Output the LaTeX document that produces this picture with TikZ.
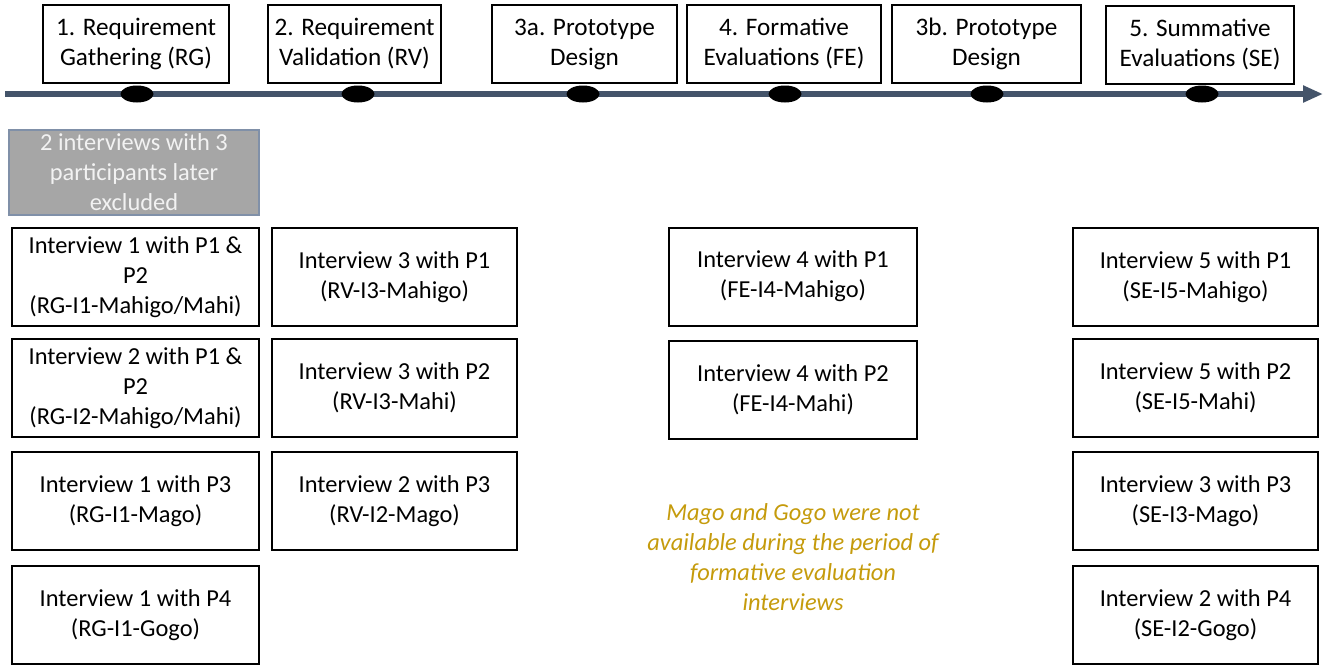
\documentclass[tikz,border=0pt]{standalone}
\usepackage{fontspec}
\setmainfont{Carlito}
\usetikzlibrary{arrows.meta,shapes.geometric}
\definecolor{timeline}{HTML}{44546A}
\definecolor{notegold}{HTML}{C59B0C}
\definecolor{excl}{HTML}{A6A6A6}
\definecolor{exclborder}{HTML}{8090A8}
\tikzset{
  phase/.style={draw=black, line width=0.8pt, fill=white, align=center, inner sep=0pt,
    minimum height=39pt, font=\fontsize{12.6}{15}\selectfont},
  ibox/.style={draw=black, line width=1pt, fill=white, align=center, inner sep=0pt,
    minimum height=49pt, font=\fontsize{12.2}{15}\selectfont},
  exclbox/.style={draw=exclborder, line width=0.6pt, fill=excl, text=white!95!black,
    align=center, inner sep=0pt, font=\fontsize{12.2}{15}\selectfont},
  milestone/.style={ellipse, fill=black, draw=none, inner sep=0pt,
    minimum width=16.5pt, minimum height=8.5pt},
  colA/.style={ibox, minimum width=123.5pt},
  colB/.style={ibox, minimum width=122.5pt},
  colD/.style={ibox, minimum width=124pt},
  colE/.style={ibox, minimum width=122.5pt},
}
\begin{document}
\begin{tikzpicture}[x=0.5pt, y=-0.5pt]
\useasboundingbox (0,0) rectangle (1325,665);

% timeline
\coordinate (tstart) at (5,94);
\coordinate (tend) at (1323,94);
\draw[timeline, line width=3pt, -{Triangle[length=10pt,width=8pt]}] (tstart) -- (tend);

% milestones on the timeline
\node[milestone] (m1) at (137,94) {};
\node[milestone] (m2) at (358,94) {};
\node[milestone] (m3) at (583,94) {};
\node[milestone] (m4) at (785,94) {};
\node[milestone] (m5) at (987,94) {};
\node[milestone] (m6) at (1202,94) {};

% phase headers
\node[phase, minimum width=93pt] (h1) at (136,44) {1. Requirement\\Gathering (RG)};
\node[phase, minimum width=86.5pt] (h2) at (354.5,44) {2. Requirement\\Validation (RV)};
\node[phase, minimum width=92.5pt] (h3) at (584.5,44) {3a. Prototype\\Design};
\node[phase, minimum width=97pt] (h4) at (784,44) {4. Formative\\Evaluations (FE)};
\node[phase, minimum width=94.5pt] (h5) at (986.5,44) {3b. Prototype\\Design};
\node[phase, minimum width=94pt] (h6) at (1200,45) {5. Summative\\Evaluations (SE)};

% excluded interviews
\node[exclbox, minimum width=125pt, minimum height=42.5pt] (ex) at (134,172.5)
  {2 interviews with 3\\participants later\\excluded};

% requirement gathering
\node[colA] (a1) at (135.5,277) {Interview 1 with P1 \&\\P2\\(RG-I1-Mahigo/Mahi)};
\node[colA] (a2) at (135.5,388) {Interview 2 with P1 \&\\P2\\(RG-I2-Mahigo/Mahi)};
\node[colA] (a3) at (135.5,501) {Interview 1 with P3\\(RG-I1-Mago)};
\node[colA] (a4) at (135.5,615) {Interview 1 with P4\\(RG-I1-Gogo)};

% requirement validation
\node[colB] (b1) at (394.5,277) {Interview 3 with P1\\(RV-I3-Mahigo)};
\node[colB] (b2) at (394.5,388) {Interview 3 with P2\\(RV-I3-Mahi)};
\node[colB] (b3) at (394.5,501) {Interview 2 with P3\\(RV-I2-Mago)};

% formative evaluations
\node[colD] (d1) at (793,276.5) {Interview 4 with P1\\(FE-I4-Mahigo)};
\node[colD] (d2) at (793,389.5) {Interview 4 with P2\\(FE-I4-Mahi)};

% summative evaluations
\node[colE] (e1) at (1195.5,277) {Interview 5 with P1\\(SE-I5-Mahigo)};
\node[colE] (e2) at (1195.5,388) {Interview 5 with P2\\(SE-I5-Mahi)};
\node[colE] (e3) at (1195.5,501) {Interview 3 with P3\\(SE-I3-Mago)};
\node[colE] (e4) at (1195.5,615) {Interview 2 with P4\\(SE-I2-Gogo)};

% note
\node[text=notegold, align=center, font=\fontsize{12.2}{15}\selectfont\itshape] (note) at (793,557)
  {Mago and Gogo were not\\available during the period of\\formative evaluation\\interviews};
\end{tikzpicture}
\end{document}
